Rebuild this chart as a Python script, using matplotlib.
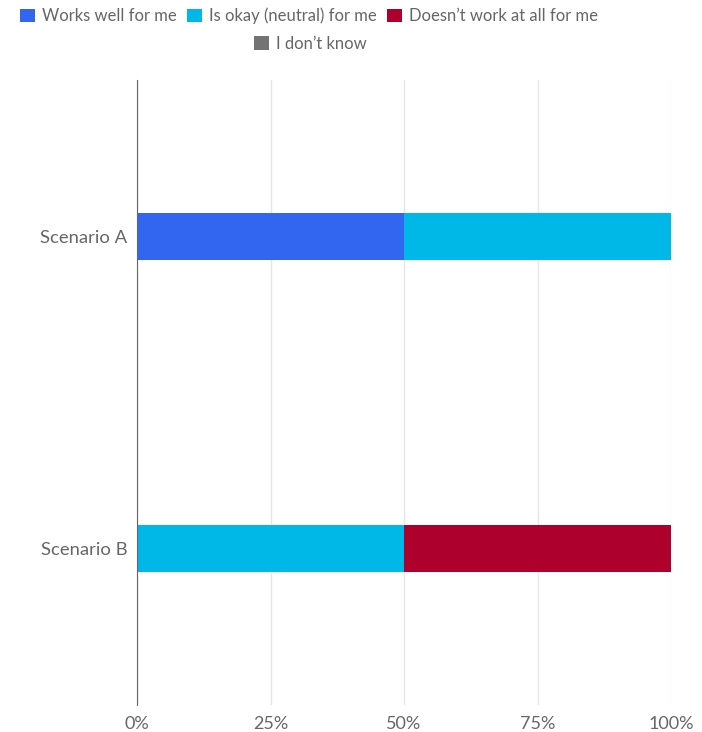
import matplotlib.pyplot as plt
from matplotlib.patches import Patch

plt.rcParams['font.family'] = ['Lato', 'DejaVu Sans']

scenarios = ['Scenario A', 'Scenario B']
series = ['Works well for me', 'Is okay (neutral) for me',
          'Doesn\u2019t work at all for me', 'I don\u2019t know']
colors = ['#3366f0', '#00b8e8', '#ad002d', '#737373']
values = [
    [50, 0],   # Works well for me
    [50, 50],  # Is okay (neutral) for me
    [0, 50],   # Doesn't work at all for me
    [0, 0],    # I don't know
]
ticks = [0, 25, 50, 75, 100]
tick_labels = ['0%', '25%', '50%', '75%', '100%']

txt = '#666666'
fig = plt.figure(figsize=(7.02, 7.32), dpi=100)
ax = fig.add_axes([137 / 702, 1 - 705 / 732, 534 / 702, 625 / 732])

ypos = list(range(len(scenarios)))
left = [0] * len(scenarios)
for vals, c in zip(values, colors):
    ax.barh(ypos, vals, left=left, height=0.15, color=c, zorder=3)
    left = [l + v for l, v in zip(left, vals)]

ax.set_ylim(1.5, -0.5)
ax.set_xlim(0, 100)
ax.set_yticks(ypos)
ax.set_yticklabels(scenarios)
ax.set_xticks(ticks)
ax.set_xticklabels(tick_labels)
ax.tick_params(axis='y', length=0, pad=7, labelsize=13.3, labelcolor=txt)
ax.tick_params(axis='x', length=0, pad=8, labelsize=13, labelcolor=txt)
ax.grid(axis='x', color='#e6e6e6', linewidth=1, zorder=0)
for s in ['top', 'right', 'bottom']:
    ax.spines[s].set_visible(False)
ax.spines['left'].set_color('#666666')
ax.spines['left'].set_zorder(4)

handles = [Patch(facecolor=c) for c in colors]
fig.legend(handles[:3], series[:3], loc='center', bbox_to_anchor=(0.440, 1 - 16 / 732),
           ncol=3, frameon=False, fontsize=12, handlelength=0.9, handleheight=0.9,
           handletextpad=0.42, columnspacing=0.6, labelcolor=txt)
fig.legend(handles[3:], series[3:], loc='center', bbox_to_anchor=(0.4416, 1 - 44 / 732),
           ncol=1, frameon=False, fontsize=12, handlelength=0.9, handleheight=0.9,
           handletextpad=0.42, labelcolor=txt)

fig.savefig('out.png', dpi=100)
